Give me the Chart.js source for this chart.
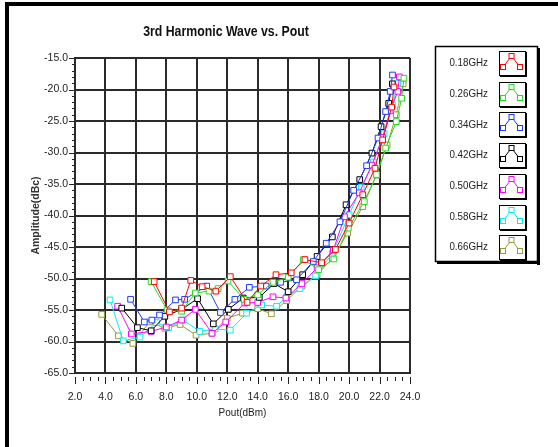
<!DOCTYPE html>
<html>
<head>
<meta charset="utf-8">
<script src="https://cdn.jsdelivr.net/npm/chart.js@4.4.1/dist/chart.umd.min.js"></script>
<style>
  html, body { margin: 0; padding: 0; background: #ffffff; }
  canvas { display: block; }
</style>
</head>
<body>
<canvas id="c" width="558" height="447"></canvas>
<script>
// ---------------- DATA ----------------
const chartTitle = "3rd Harmonic Wave vs. Pout";
const xAxisTitle = "Pout(dBm)";
const yAxisTitle = "Amplitude(dBc)";
const xTicks = [2, 4, 6, 8, 10, 12, 14, 16, 18, 20, 22, 24];
const yTicks = [-15, -20, -25, -30, -35, -40, -45, -50, -55, -60, -65];
const seriesLabels = ["0.18GHz", "0.26GHz", "0.34GHz", "0.42GHz", "0.50GHz", "0.58GHz", "0.66GHz"];

const pout018 = [7.2, 8.2, 9.0, 9.6, 10.35, 11.25, 12.2, 13.3, 14.2, 15.2, 16.2, 17.1, 18.2, 19.1, 20.0, 20.9, 21.7, 22.2, 22.8, 22.95];
const amp018  = [-50.5, -55.3, -54.7, -50.3, -51.3, -52.0, -49.7, -53.8, -51.2, -49.4, -49.1, -47.0, -47.5, -45.4, -41.2, -36.7, -32.5, -28.0, -22.8, -19.6];

const pout026 = [7.0, 8.05, 9.0, 9.9, 10.8, 11.4, 12.05, 13.1, 14.0, 15.0, 16.0, 17.0, 18.0, 19.0, 19.95, 21.0, 21.8, 22.4, 23.1, 23.45, 23.6];
const amp026  = [-50.5, -55.0, -55.2, -52.3, -52.0, -51.6, -50.4, -53.3, -52.6, -50.6, -49.8, -47.0, -48.6, -46.9, -42.0, -37.8, -33.5, -29.3, -25.1, -21.4, -18.2];

const pout034 = [5.65, 6.55, 7.05, 7.55, 8.6, 9.2, 10.65, 11.55, 12.5, 13.45, 14.55, 15.5, 16.55, 17.65, 18.5, 19.4, 20.3, 21.15, 21.9, 22.4, 22.7, 22.85];
const amp034  = [-53.3, -56.9, -56.6, -55.8, -53.4, -53.3, -51.2, -55.4, -53.3, -51.4, -51.2, -50.6, -50.2, -47.3, -44.4, -41.0, -36.0, -32.1, -27.7, -23.5, -20.3, -17.7];

const pout042 = [5.07, 6.1, 7.0, 7.9, 9.0, 10.05, 11.08, 12.07, 13.05, 14.1, 15.07, 16.0, 16.95, 17.9, 18.9, 19.8, 20.7, 21.5, 22.1, 22.6, 22.84];
const amp042  = [-54.7, -57.8, -58.3, -56.0, -54.9, -53.2, -57.2, -54.9, -53.1, -53.0, -50.8, -52.1, -49.4, -46.5, -43.4, -38.3, -34.3, -30.1, -25.9, -22.2, -19.1];

const pout050 = [4.8, 5.7, 7.0, 8.0, 9.0, 9.9, 11.0, 11.9, 13.15, 14.0, 15.0, 15.85, 16.9, 17.9, 18.96, 19.7, 20.67, 21.5, 22.2, 22.7, 23.2, 23.3];
const amp050  = [-54.4, -58.8, -58.4, -57.7, -56.6, -54.9, -58.7, -56.9, -53.9, -53.8, -52.9, -53.1, -50.8, -48.3, -45.5, -40.2, -36.4, -32.0, -27.6, -23.4, -20.3, -18.0];

const pout058 = [4.3, 5.17, 6.27, 7.35, 8.15, 9.1, 10.2, 11.2, 12.2, 13.27, 14.26, 15.24, 15.9, 16.77, 17.8, 18.9, 20.0, 20.8, 21.6, 22.3, 22.85, 23.2];
const amp058  = [-53.4, -59.9, -59.3, -57.0, -57.8, -56.6, -58.4, -58.0, -58.2, -55.5, -54.2, -54.4, -52.9, -51.6, -49.6, -46.0, -39.9, -35.5, -31.5, -27.0, -22.5, -19.0];

const pout066 = [3.75, 4.85, 5.8, 6.9, 7.9, 8.9, 9.95, 11.0, 12.0, 13.0, 14.0, 14.9, 15.9, 16.9, 17.9, 18.9, 19.9, 20.9, 21.8, 22.5, 23.1, 23.55];
const amp066  = [-55.7, -59.1, -60.3, -56.9, -57.9, -57.3, -59.0, -58.7, -56.3, -55.5, -54.8, -55.6, -53.5, -51.2, -49.4, -46.8, -42.8, -38.6, -33.6, -28.8, -24.0, -19.1];

const seriesColors = ["#ff0000", "#22dd22", "#1a3cff", "#000000", "#ff00ff", "#00f0f0", "#9c9a3c"];
// ---------------------------------------

const poutAll = [pout018, pout026, pout034, pout042, pout050, pout058, pout066];
const ampAll  = [amp018, amp026, amp034, amp042, amp050, amp058, amp066];

const datasets = seriesLabels.map((lab, i) => ({
  label: lab,
  data: poutAll[i].map((x, k) => ({ x: x, y: ampAll[i][k] })),
  borderColor: seriesColors[i],
  backgroundColor: "#ffffff",
  borderWidth: 1,
  pointStyle: "rect",
  pointRadius: 4,
  pointBorderWidth: 1,
  pointBorderColor: seriesColors[i],
  pointBackgroundColor: "#ffffff",
  tension: 0,
  fill: false
}));

const FONT = "'Liberation Sans', Arial, sans-serif";

function narrowText(ctx, text, x, y, font, sx, align) {
  ctx.save();
  ctx.translate(x, y);
  ctx.scale(sx, 1);
  ctx.font = font;
  ctx.textAlign = align;
  ctx.textBaseline = "middle";
  ctx.fillText(text, 0, 0);
  ctx.restore();
}

const decoPlugin = {
  id: "deco",
  beforeDraw(chart) {
    const ctx = chart.ctx;
    ctx.save();
    ctx.fillStyle = "#ffffff";
    ctx.fillRect(0, 0, chart.width, chart.height);
    // outer frame (left and top)
    ctx.fillStyle = "#000000";
    ctx.fillRect(5, 2, chart.width - 5, 4);
    ctx.fillRect(5, 2, 4, chart.height - 2);
    ctx.restore();
  },
  afterDraw(chart) {
    const ctx = chart.ctx;
    const xs = chart.scales.x, ys = chart.scales.y;
    const area = chart.chartArea;
    ctx.save();
    // tick marks
    ctx.strokeStyle = "#222";
    ctx.lineWidth = 1;
    ctx.beginPath();
    for (let v = xs.min; v <= xs.max + 1e-9; v += 0.5) {
      const px = Math.round(xs.getPixelForValue(v)) + 0.5;
      const major = Math.abs(v / 2 - Math.round(v / 2)) < 1e-6;
      ctx.moveTo(px, area.bottom + 4);
      ctx.lineTo(px, area.bottom + (major ? 11 : 8));
    }
    for (let v = ys.min; v <= ys.max + 1e-9; v += 1) {
      const py = Math.round(ys.getPixelForValue(v)) + 0.5;
      const major = Math.abs(v / 5 - Math.round(v / 5)) < 1e-6;
      ctx.moveTo(area.left - (major ? 6 : 3), py);
      ctx.lineTo(area.left - 1, py);
    }
    ctx.stroke();

    // title
    ctx.fillStyle = "#111";
    narrowText(ctx, chartTitle, 226, 32, "bold 15px " + FONT, 0.82, "center");

    // legend
    const lx = 435, ly = 46, lw = 102, lh = 215;
    ctx.strokeStyle = "#000";
    ctx.lineWidth = 1.5;
    ctx.strokeRect(lx + 0.5, ly + 0.5, lw, lh);
    ctx.fillStyle = "#000";
    ctx.fillRect(lx + lw, ly + 2, 3, lh + 2);
    ctx.fillRect(lx + 2, ly + lh, lw + 1, 3);

    chart.data.datasets.forEach((ds, i) => {
      const cy = 63 + i * 30.7;
      ctx.fillStyle = "#222";
      narrowText(ctx, ds.label, 488, cy, "11.5px " + FONT, 0.85, "right");
      // symbol box
      const bx = 499, by = Math.round(cy - 12);
      ctx.strokeStyle = "#000";
      ctx.lineWidth = 1;
      ctx.strokeRect(bx + 0.5, by + 0.5, 26, 24);
      ctx.fillStyle = "#000";
      ctx.fillRect(bx + 26, by + 1, 2, 25);
      ctx.fillRect(bx + 1, by + 24, 26, 2);
      const pts = [[bx + 4, by + 16], [bx + 12.5, by + 5], [bx + 21, by + 16]];
      ctx.strokeStyle = ds.borderColor;
      ctx.beginPath();
      ctx.moveTo(pts[0][0], pts[0][1]);
      ctx.lineTo(pts[1][0], pts[1][1]);
      ctx.lineTo(pts[2][0], pts[2][1]);
      ctx.stroke();
      pts.forEach(p => {
        ctx.fillStyle = "#fff";
        ctx.fillRect(p[0] - 2.5, p[1] - 2.5, 5, 5);
        ctx.strokeRect(p[0] - 2.5, p[1] - 2.5, 5, 5);
      });
    });
    ctx.restore();
  }
};

new Chart(document.getElementById("c"), {
  type: "line",
  data: { datasets: datasets },
  plugins: [decoPlugin],
  options: {
    responsive: false,
    animation: false,
    devicePixelRatio: 1,
    layout: { padding: { left: 0, top: 58, right: 148, bottom: 0 } },
    plugins: {
      legend: { display: false },
      title: { display: false },
      tooltip: { enabled: false }
    },
    scales: {
      x: {
        type: "linear",
        min: 2, max: 24,
        afterBuildTicks: s => { s.ticks = xTicks.map(v => ({ value: v })); },
        afterFit: s => { s.height = 74; },
        ticks: {
          callback: v => Number(v).toFixed(1),
          font: { family: FONT, size: 10.5 },
          color: "#222",
          padding: 18,
          maxRotation: 0,
          autoSkip: false
        },
        grid: { color: "#2a2a2a", lineWidth: 2, drawTicks: false },
        border: { display: true, color: "#2a2a2a", width: 2 },
        title: {
          display: true,
          text: xAxisTitle,
          font: { family: FONT, size: 10 },
          color: "#222",
          padding: { top: 0, bottom: 28 }
        }
      },
      y: {
        type: "linear",
        min: -65, max: -15,
        afterBuildTicks: s => { s.ticks = yTicks.map(v => ({ value: v })); },
        afterFit: s => { s.width = 75; },
        ticks: {
          callback: v => Number(v).toFixed(1),
          font: { family: FONT, size: 10.5 },
          color: "#222",
          padding: 7
        },
        grid: { color: "#2a2a2a", lineWidth: 2, drawTicks: false },
        border: { display: true, color: "#2a2a2a", width: 2 },
        title: {
          display: true,
          text: yAxisTitle,
          font: { family: FONT, size: 10.5, weight: "bold" },
          color: "#333",
          padding: { top: 30, bottom: 0 }
        }
      }
    }
  }
});
</script>
</body>
</html>
